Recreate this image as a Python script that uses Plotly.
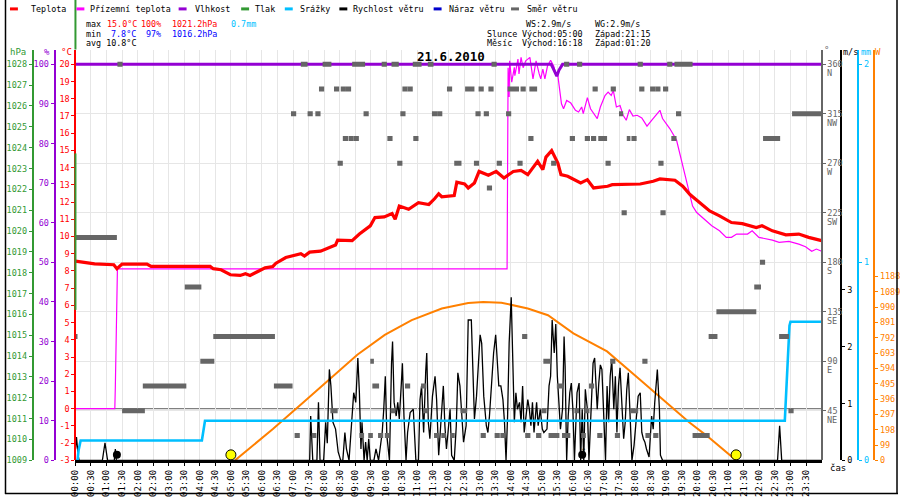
import plotly.graph_objects as go

# ---------------- data (time in minutes of the day) ----------------
temp_t = [0, 17, 37, 74, 80, 90, 138, 146, 260, 266, 281, 299, 318, 328, 337, 352, 366, 381, 387, 406,
          435, 442, 452, 473, 502, 506, 534, 548, 569, 578, 596, 611, 617, 625, 643, 662, 682, 693, 701, 707,
          731, 736, 751, 758, 770, 779, 797, 812, 827, 845, 860, 873, 892, 902, 908, 919, 931, 937, 950, 975,
          988, 1000, 1027, 1036, 1065, 1090, 1115, 1128, 1157, 1172, 1186, 1205, 1224, 1243, 1266, 1287, 1314,
          1325, 1345, 1371, 1396, 1415, 1429, 1440]
temp_v = [8.57, 8.51, 8.41, 8.36, 8.13, 8.40, 8.40, 8.26, 8.26, 8.13, 8.07, 7.78, 7.74, 7.84, 7.74, 7.97, 8.18, 8.26, 8.45, 8.78,
          9.00, 8.86, 9.09, 9.15, 9.51, 9.79, 9.76, 10.14, 10.62, 11.10, 11.14, 11.33, 11.00, 11.77, 11.58, 11.96, 11.86, 12.19, 12.48, 12.31,
          12.38, 13.15, 13.05, 12.82, 13.11, 13.78, 13.56, 13.78, 13.40, 13.78, 13.84, 13.59, 14.36, 13.88, 14.61, 14.99, 14.26, 13.59, 13.50, 13.11,
          13.30, 12.82, 12.92, 13.01, 13.01, 13.05, 13.21, 13.34, 13.27, 12.92, 12.44, 11.96, 11.48, 11.20, 10.81, 10.75, 10.52,
          10.62, 10.33, 10.10, 10.14, 9.95, 9.85, 9.76]

feel_t = [0, 76, 77, 79, 81, 833, 834, 835, 837, 838, 842, 847, 848, 854, 856, 860, 864, 869, 873, 877, 883, 889, 895, 898,
          902, 906, 911, 917, 923, 927, 931, 935, 938, 942, 948, 956, 965, 971, 977, 980, 988, 994, 1000, 1007, 1013,
          1022, 1028, 1034, 1038, 1044, 1051, 1057, 1063, 1069, 1076, 1084, 1093, 1103, 1112, 1122, 1128, 1133, 1147,
          1160, 1166, 1180, 1191, 1199, 1210, 1228, 1243, 1256, 1266, 1276, 1297, 1306, 1319, 1345, 1358, 1377, 1396,
          1409, 1421, 1430, 1440]
feel_v = [0, 0, 1.3, 4.1, 8.12, 8.12, 18.0, 19.8, 18.1, 20.2, 18.96, 19.82, 19.34, 20.3, 19.44, 20.4, 19.8, 20.2, 20.3, 20.4, 19.15, 20.2, 19.44, 19.15,
          19.72, 19.15, 19.9, 20.24, 19.9, 19.44, 19.34, 18.29, 17.71, 17.42, 17.9, 17.75, 17.33, 17.23, 17.52, 17.14, 18.06, 17.42, 17.14, 16.85, 17.52,
          18.19, 18.38, 18.19, 18.48, 17.52, 17.61, 17.04, 16.75, 17.37, 17.0, 17.04, 16.89, 16.41, 16.75, 17.14, 17.33, 16.85, 16.27,
          15.6, 14.84, 13.01, 11.77, 11.39, 11.10, 10.62, 10.33, 9.95, 9.95, 10.14, 10.14, 10.33, 9.95, 9.79, 9.66, 9.72, 9.56,
          9.41, 9.14, 9.27, 9.14]

hum_t = [0, 918, 922, 929, 933, 940, 1440]
hum_v = [100, 100, 99, 97, 98.5, 100, 100]

wind_t = [0, 2, 5, 7, 52, 57, 62, 75, 77, 79, 452, 454, 458, 466, 469, 472, 479, 483, 486, 490, 493, 497, 502, 507, 512,
          516, 520, 523, 528, 534, 537, 541, 545, 548, 551, 553, 557, 560, 563, 566, 569, 576, 580, 585, 592, 595, 598,
          601, 606, 610, 612, 615, 619, 622, 625, 629, 631, 634, 638, 641, 646, 652, 657, 662, 665, 668, 672, 676, 678,
          681, 684, 689, 694, 697, 701, 707, 710, 713, 716, 719, 723, 726, 731, 735, 738, 742, 745, 749, 754, 758, 764,
          767, 770, 774, 778, 781, 784, 788, 793, 796, 799, 802, 807, 811, 814, 817, 821, 825, 828, 831, 834, 837, 841,
          844, 847, 850, 853, 857, 860, 863, 866, 869, 873, 876, 879, 882, 885, 890, 893, 897, 901, 904, 910, 914, 917,
          920, 924, 927, 930, 933, 936, 940, 943, 945, 948, 951, 954, 957, 960, 963, 968, 972, 975, 978, 981, 984, 988,
          991, 995, 999, 1002, 1004, 1007, 1010, 1013, 1016, 1019, 1023, 1026, 1029, 1032, 1035, 1039, 1042, 1045, 1048,
          1051, 1055, 1058, 1061, 1064, 1067, 1070, 1074, 1078, 1083, 1086, 1090, 1093, 1096, 1099, 1102, 1107, 1112,
          1115, 1118, 1122, 1123, 1127, 1129, 1133, 1355, 1359, 1363, 1440]
wind_v = [0.2, 0.41, 0.1, 0, 0, 0.31, 0, 0, 0.2, 0, 0, 0.78, 0, 0, 1.02, 0, 0, 0.67, 0.3, 1.6, 1.31, 0.67, 0.55, 0.15, 0,
          0, 0.49, 0.20, 0, 0.78, 1.19, 1.02, 1.80, 1.19, 0.20, 0.67, 0, 0.32, 0, 0.38, 0, 0, 0.20, 0, 0.49, 0.90, 1.48,
          0.44, 0, 1.71, 2.09, 1.02, 0.78, 1.02, 0.73, 1.36, 1.71, 0.78, 0, 0.49, 0.84, 0.90, 0, 0, 1.07, 1.31, 0.49, 1.57, 1.89,
          0.67, 0.38, 1.13, 1.48, 1.07, 0.09, 0.90, 1.31, 0.61, 0.20, 0.49, 0.90, 0.09, 0, 0.61, 1.54, 1.31, 0.90, 0.32, 0.61, 2.47, 2.47,
          1.36, 0.73, 1.13, 1.77, 2.21, 2.06, 1.13, 0.61, 0.49, 0.78, 1.19, 1.89, 2.21, 1.66, 1.31, 1.31, 1.07, 0.67, 0, 0.78, 2.06, 2.87,
          1.83, 0.67, 1.19, 0.90, 1.02, 0.67, 1.31, 0.49, 0.73, 1.07, 0.90, 0.61, 1.02, 0.49, 1.02, 0.61, 0.90, 0.55, 0.49, 0.55, 1.31, 1.48,
          2.47, 1.89, 2.40, 1.48, 1.02, 0.55, 0.90, 2.18, 1.66, 0, 0.78, 1.19, 1.36, 0.90, 0, 1.19, 1.36, 0, 0.90, 0, 1.25, 0.90,
          0, 1.02, 1.71, 1.80, 1.31, 0.90, 1.36, 1.68, 1.60, 1.02, 0, 1.31, 0.67, 1.48, 1.77, 0.90, 1.48, 0.49, 1.31,
          1.63, 0.73, 0.38, 0.67, 1.25, 1.54, 0.73, 0, 0.26, 0.73, 1.13, 1.19, 0.49, 0.38, 0.32, 0.20, 0.06, 0.78,
          0.55, 1.02, 1.48, 1.60, 0.90, 0.09, 0, 0, 0.61, 0, 0]

rain_t = [0, 4, 6, 10, 244, 246, 248, 250, 1369, 1372, 1375, 1378, 1380, 1440]
rain_v = [0, 0, 0.05, 0.1, 0.1, 0.13, 0.18, 0.2, 0.2, 0.35, 0.53, 0.68, 0.7, 0.7]

solar_t = [308, 381, 439, 490, 544, 597, 649, 707, 758, 787, 822, 873, 912, 961, 1026, 1089, 1153, 1185, 1218, 1256, 1275]
solar_v = [0, 203, 373, 523, 683, 811, 906, 981, 1017, 1024, 1019, 981, 938, 821, 704, 523, 341, 245, 160, 53, 0]

# wind direction: runs (start min, end min, degrees)
wd_t0 = [0, 0, 81, 90, 130, 211, 241, 266, 383, 416, 423, 435, 448, 456, 463, 470, 477, 492, 499, 506, 512, 516, 522,
         527, 534, 537, 548, 556, 565, 569, 573, 584, 591, 597, 602, 608, 610, 621, 627, 631, 636, 641, 651, 652, 667,
         671, 680, 688, 692, 698, 706, 717, 723, 731, 743, 752, 769, 772, 778, 782, 788, 794, 797, 803, 809, 813, 820,
         831, 834, 853, 859, 862, 868, 874, 876, 889, 899, 903, 913, 918, 929, 939, 943, 954, 963, 968, 976, 982, 983,
         991, 995, 998, 1007, 1009, 1023, 1032, 1033, 1041, 1049, 1054, 1064, 1070, 1073, 1085, 1088, 1094, 1100, 1109,
         1115, 1119, 1125, 1129, 1134, 1142, 1150, 1156, 1159, 1191, 1222, 1237, 1310, 1321, 1327, 1358, 1376, 1383]
wd_t1 = [80, 4, 91, 134, 214, 243, 268, 385, 419, 426, 433, 448, 458, 465, 473, 480, 494, 506, 509, 516, 522, 526, 532,
         537, 559, 547, 557, 566, 574, 576, 586, 594, 601, 606, 612, 618, 624, 631, 637, 641, 646, 651, 668, 662, 677,
         681, 691, 698, 702, 708, 715, 727, 732, 745, 756, 770, 779, 782, 788, 792, 798, 804, 807, 813, 819, 823, 830,
         841, 856, 863, 869, 872, 878, 884, 891, 899, 909, 917, 934, 928, 942, 955, 953, 964, 972, 978, 985, 992, 993,
         1001, 1005, 1008, 1017, 1026, 1033, 1042, 1043, 1051, 1057, 1064, 1071, 1086, 1083, 1095, 1098, 1104, 1110, 1119,
         1125, 1129, 1135, 1139, 1144, 1152, 1160, 1191, 1169, 1224, 1239, 1314, 1323, 1331, 1360, 1377, 1386, 1440]
wd_deg = [202.5, 112.5, 360, 45, 67.5, 157.5, 90, 112.5, 67.5, 315, 22.5, 360, 315, 22.5, 315, 337.5, 360, 45, 337.5, 270, 337.5, 292.5, 337.5,
          292.5, 360, 292.5, 22.5, 315, 22.5, 90, 67.5, 22.5, 360, 22.5, 292.5, 45, 360, 270, 315, 337.5, 67.5, 337.5, 360, 292.5, 67.5,
          45, 360, 315, 22.5, 315, 22.5, 337.5, 22.5, 270, 45, 337.5, 270, 315, 337.5, 22.5, 315, 247.5, 337.5, 360, 22.5, 270, 22.5,
          315, 337.5, 270, 337.5, 112.5, 22.5, 292.5, 337.5, 22.5, 45, 90, 22.5, 270, 67.5, 22.5, 360, 292.5, 45, 360, 22.5, 45, 292.5,
          67.5, 292.5, 337.5, 22.5, 292.5, 270, 90, 337.5, 22.5, 315, 225, 292.5, 45, 292.5, 360, 337.5, 90, 22.5, 337.5,
          22.5, 337.5, 270, 225, 337.5, 360, 292.5, 360, 315, 22.5, 112.5, 135, 157.5, 180, 292.5, 112.5, 45, 315]

sun_events = [300, 1275]    # sunrise 05:00, sunset 21:15
moon_events = [80, 978]     # moonset 01:20, moonrise 16:18

time_ticks = list(range(0, 1440, 30))
time_labels = ["%02d:%02d" % (m // 60, m % 60) for m in time_ticks]
deg_ticks = [45, 90, 135, 180, 225, 270, 315, 360]
compass = ["NE", "E", "SE", "S", "SW", "W", "NW", "N"]

legend_names = ["Teplota", "Přízemní teplota", "Vlhkost", "Tlak", "Srážky", "Rychlost větru", "Náraz větru", "Směr větru"]

# ---------------- styling ----------------
W, H = 900, 500
MONO = "DejaVu Sans Mono"
FS = 8.4
C_T, C_F, C_H, C_P = "#ff0000", "#ff00ff", "#9400d3", "#339933"
C_R, C_WS, C_WG, C_WD, C_S = "#00bfff", "#000000", "#0000cc", "#666666", "#ff8000"
legend_colors = [C_T, C_F, C_H, C_P, C_R, C_WS, C_WG, C_WD]
legend_dash_x = [5, 72, 175, 238, 282, 337, 432, 510]
legend_text_x = [24, 84, 189, 250, 295, 349, 445, 524]


def px(x):
    return x / W


def py(y):
    return 1 - y / H


fig = go.Figure()
fig.add_trace(go.Scatter(x=solar_t, y=solar_v, yaxis="y", mode="lines",
                         line=dict(color=C_S, width=2), hoverinfo="skip"))
fig.add_trace(go.Scatter(x=feel_t, y=feel_v, yaxis="y2", mode="lines",
                         line=dict(color=C_F, width=1.2), hoverinfo="skip"))
fig.add_trace(go.Scatter(x=temp_t, y=temp_v, yaxis="y2", mode="lines",
                         line=dict(color=C_T, width=3.2), hoverinfo="skip"))
fig.add_trace(go.Scatter(x=hum_t, y=hum_v, yaxis="y3", mode="lines",
                         line=dict(color=C_H, width=3), hoverinfo="skip"))
fig.add_trace(go.Scatter(x=wind_t, y=wind_v, yaxis="y4", mode="lines",
                         line=dict(color=C_WS, width=1.3), hoverinfo="skip"))
fig.add_trace(go.Scatter(x=rain_t, y=rain_v, yaxis="y5", mode="lines",
                         line=dict(color=C_R, width=2.6), hoverinfo="skip"))
wx, wy = [], []
for a, b, d in zip(wd_t0, wd_t1, wd_deg):
    wx += [a, b, None]
    wy += [d, d, None]
fig.add_trace(go.Scatter(x=wx, y=wy, yaxis="y6", mode="lines", connectgaps=False,
                         line=dict(color=C_WD, width=5), hoverinfo="skip"))
fig.add_trace(go.Scatter(x=sun_events, y=[5] * len(sun_events), yaxis="y6", mode="markers",
                         marker=dict(color="#ffff00", size=10, line=dict(color="black", width=1)),
                         hoverinfo="skip"))
fig.add_trace(go.Scatter(x=moon_events, y=[5] * len(moon_events), yaxis="y6", mode="markers",
                         marker=dict(color="black", size=8), hoverinfo="skip"))
fig.add_trace(go.Scatter(x=[], y=[], yaxis="y7", mode="lines", line=dict(color=C_P), hoverinfo="skip"))

dom = [py(465), py(50)]


def yax(color, pos, side, rng, tickvals, ticktext=None, **kw):
    d = dict(domain=dom, range=rng, anchor="free", position=pos, side=side,
             tickvals=tickvals, showline=True, linecolor=color, linewidth=2,
             ticks="outside", ticklen=3, tickcolor=color, tickwidth=1,
             tickfont=dict(family=MONO, size=8.5, color=color),
             showgrid=False, zeroline=False, fixedrange=True)
    if ticktext is not None:
        d["ticktext"] = ticktext
    d.update(kw)
    return d


fig.update_layout(
    width=W, height=H, margin=dict(l=0, r=0, t=0, b=0),
    paper_bgcolor="white", plot_bgcolor="white", showlegend=False,
    xaxis=dict(domain=[px(71), px(823)], range=[0, 1440], anchor="y",
               tickvals=time_ticks, ticktext=time_labels, tickangle=-90,
               tickfont=dict(family=MONO, size=9, color="black"),
               showgrid=True, gridcolor="#e6e6e6", gridwidth=1,
               showline=True, linecolor="black", linewidth=3,
               ticks="outside", ticklen=3, tickcolor="black",
               zeroline=False, fixedrange=True),
    yaxis=yax(C_S, px(876), "right", [0, 2655], list(range(0, 1189, 99))),
    yaxis2=yax(C_T, px(71), "left", [-3, 20.86], list(range(-3, 21)),
               [str(v) for v in range(-3, 21)], overlaying="y"),
    yaxis3=yax(C_H, px(50), "left", [0, 103.75], list(range(0, 101, 10)), overlaying="y"),
    yaxis4=yax("#000000", px(843), "right", [0, 7.23], [0, 1, 2, 3], overlaying="y"),
    yaxis5=yax(C_R, px(860), "right", [0, 2.075], [0, 1, 2], overlaying="y"),
    yaxis6=yax(C_WD, px(823), "right", [0, 373.5], deg_ticks, overlaying="y",
               showgrid=True, gridcolor="#e6e6e6", gridwidth=1),
    yaxis7=yax(C_P, px(28), "left", [1009, 1028.71], list(range(1009, 1029)), overlaying="y"),
)

shapes = []
ann = []

# 0 °C reference line
shapes.append(dict(type="line", xref="x", yref="y2", x0=0, x1=1440, y0=0, y1=0,
                   line=dict(color="#808080", width=1.2), layer="below"))
# green segments at the left edge
shapes.append(dict(type="line", xref="paper", yref="paper", x0=px(71), x1=px(71), y0=py(0), y1=py(50),
                   line=dict(color=C_P, width=2)))
shapes.append(dict(type="line", xref="paper", yref="paper", x0=px(71), x1=px(71), y0=py(155), y1=py(313),
                   line=dict(color=C_P, width=2)))
# image border
for x0, y0, x1, y1 in [(0.5, 0, 0.5, 499), (899, 0, 899, 499), (0, 498.5, 900, 498.5)]:
    shapes.append(dict(type="line", xref="paper", yref="paper", x0=px(x0), x1=px(x1), y0=py(y0), y1=py(y1),
                       line=dict(color="black", width=1.5)))

# legend
for name, col, dx, tx in zip(legend_names, legend_colors, legend_dash_x, legend_text_x):
    shapes.append(dict(type="line", xref="paper", yref="paper", x0=px(dx), x1=px(dx + 8), y0=py(9), y1=py(9),
                       line=dict(color=col, width=3)))
    ann.append(dict(text=name, x=px(tx), y=py(9), xref="paper", yref="paper", xanchor="left", yanchor="middle",
                    showarrow=False, font=dict(family=MONO, size=FS, color="black")))


def txt(s, x, y, color="black", size=FS, bold=False, anchor="left"):
    ann.append(dict(text=("<b>%s</b>" % s) if bold else s, x=px(x), y=py(y), xref="paper", yref="paper",
                    xanchor=anchor, yanchor="middle", showarrow=False,
                    font=dict(family=MONO, size=size, color=color)))


# stats block
txt("max", 80, 24); txt("15.0°C", 101, 24, C_T); txt("100%", 135, 24, C_T)
txt("1021.2hPa", 166, 24, C_T); txt("0.7mm", 226, 24, C_R)
txt("min", 80, 34); txt("7.8°C", 105, 34, "#0000ff"); txt("97%", 140, 34, "#0000ff")
txt("1016.2hPa", 166, 34, "#0000ff")
txt("avg 10.8°C", 80, 43)
# sun / moon block
txt("WS:2.9m/s", 523, 24); txt("WG:2.9m/s", 593, 24)
txt("Slunce", 484, 34); txt("Východ:05:00", 519, 34); txt("Západ:21:15", 593, 34)
txt("Měsíc", 484, 43); txt("Východ:16:18", 519, 43); txt("Západ:01:20", 593, 43)
# title
txt("21.6.2010", 449, 57, "black", 12.5, True, "center")
# axis titles
txt("hPa", 13, 53, C_P, 9, False, "center")
txt("%", 42, 53, C_H, 9, False, "center")
txt("°C", 62, 53, C_T, 9, False, "center")
txt("°", 828, 51, C_WD, 9, False, "center")
txt("m/s", 852, 53, "black", 8.5, False, "center")
txt("mm", 868, 53, C_R, 8.5, False, "center")
txt("W", 880, 53, C_S, 9, False, "center")
txt("čas", 840, 473, "black", 9, False, "center")
txt("↑", 583, 455, "black", 9, False, "center")

# compass letters under the direction ticks
for v, c in zip(deg_ticks, compass):
    ann.append(dict(text=c, x=px(826), y=v, xref="paper", yref="y6", xanchor="left", yanchor="middle",
                    yshift=-9, showarrow=False, font=dict(family=MONO, size=8.5, color=C_WD)))

fig.update_layout(shapes=shapes, annotations=ann)
fig.write_html("out.html", config={"displayModeBar": False},
               post_script="document.body.style.margin='0';document.body.style.overflow='hidden';")
